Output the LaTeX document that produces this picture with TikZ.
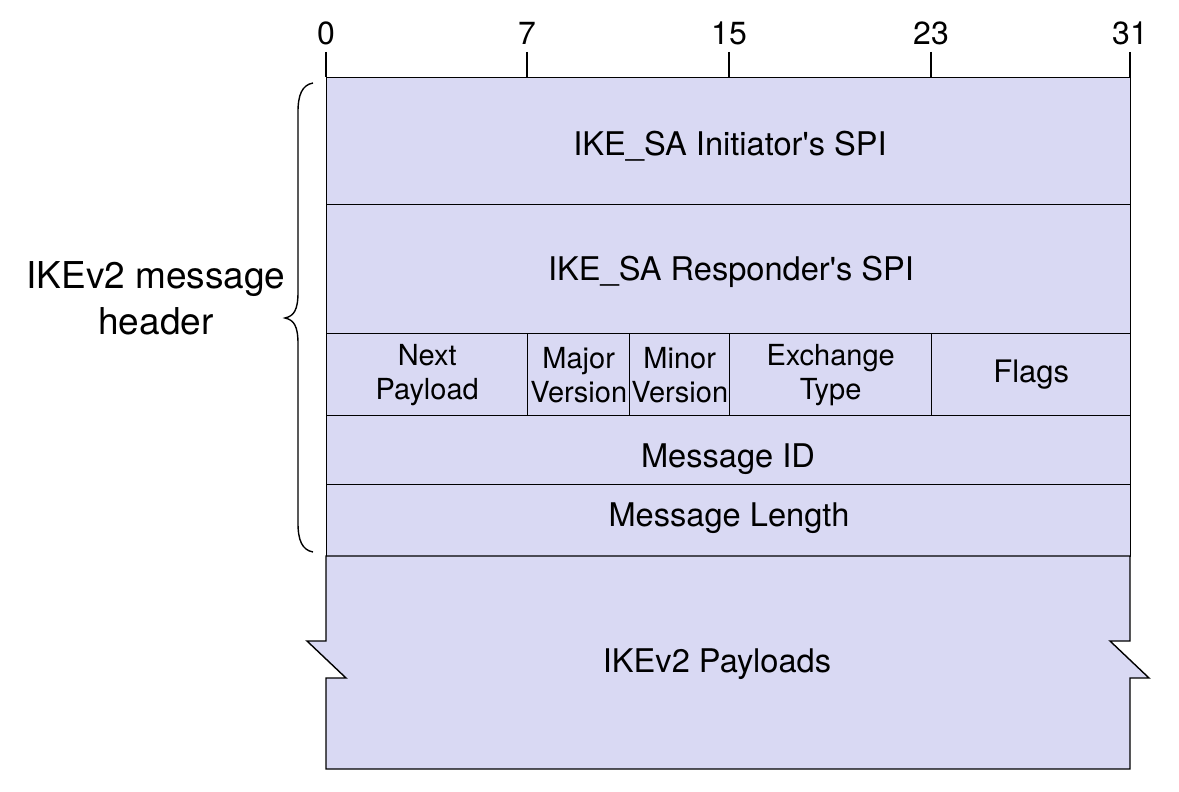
\documentclass[tikz,border=0pt]{standalone}
\usepackage{fontspec}
\setmainfont{TeX Gyre Heros}
\newfontfamily\qfont{TeX Gyre Heros}
\definecolor{fieldfill}{RGB}{217,217,243}
\newcommand{\sq}{{\qfont\char"27}}
\begin{document}
\begin{tikzpicture}[x=1pt,y=-1pt,
  ln/.style={line width=1.4pt, black},
  field/.style={ln, draw, fill=fieldfill, inner sep=0pt, anchor=north west, align=center,
    font=\fontsize{29}{34}\selectfont},
  lbl/.style={inner sep=0pt, anchor=base, font=\fontsize{32.6}{38}\selectfont},
  bitlbl/.style={inner sep=0pt, anchor=base, font=\fontsize{32}{38}\selectfont},
  side/.style={inner sep=0pt, align=center, font=\fontsize{37}{46}\selectfont}]
\useasboundingbox (0,0) rectangle (1179,792);
% header rows
\node[field, minimum width=804pt, minimum height=127pt] (ini) at (326,77) {};
\node[field, minimum width=804pt, minimum height=129pt] (res) at (326,204) {};
\node[field, minimum width=201pt, minimum height=82pt] (np) at (326,333) {Next\\Payload};
\node[field, minimum width=102pt, minimum height=82pt] (maj) at (527,333) {Major\\Version};
\node[field, minimum width=100pt, minimum height=82pt] (min) at (629,333) {Minor\\Version};
\node[field, minimum width=202pt, minimum height=82pt] (ext) at (729,333) {Exchange\\Type};
\node[field, minimum width=199pt, minimum height=82pt, font=\fontsize{31}{34}\selectfont] (flg) at (931,333) {Flags};
\node[field, minimum width=804pt, minimum height=69pt] (mid) at (326,415) {};
\node[field, minimum width=804pt, minimum height=72pt] (mln) at (326,484) {};
% payload with break marks
\filldraw[ln, fill=fieldfill] (326,556) coordinate (p1) -- (1130,556) -- (1130,641) -- (1110,641) -- (1149,678)
  -- (1130,678) -- (1130,769) -- (326,769) -- (326,678) -- (346,678) -- (307,641) -- (326,641) -- cycle;
% labels
\node[lbl] (tini) at (730,155) {IKE\_SA Initiator\sq s SPI};
\node[lbl] (tres) at (731,280) {IKE\_SA Responder\sq s SPI};
\node[lbl] (tmid) at (728,467) {Message ID};
\node[lbl] (tmln) at (729,526) {Message Length};
\node[lbl] (tpay) at (717,672) {IKEv2 Payloads};
% bit ticks
\foreach \x/\b in {326/0,527/7,729/15,931/23,1130/31}{
  \node[bitlbl] (b\b) at (\x,45) {\b};
  \coordinate (t\b) at (\x,52);
  \coordinate (u\b) at (\x,77);
  \draw[ln] (t\b) -- (u\b);
}
% brace
\coordinate (bt) at (313,83);
\coordinate (bb) at (313,552);
\coordinate (tip) at (285,318);
\draw[ln] (bt) .. controls (302,85) and (298,95) .. (298,112) -- (298,292)
  .. controls (298,310) and (294,316) .. (tip)
  .. controls (294,320) and (298,326) .. (298,344) -- (298,523)
  .. controls (298,540) and (302,550) .. (bb);
\node[side] (hdr) at (156,298) {IKEv2 message\\header};
\end{tikzpicture}
\end{document}
